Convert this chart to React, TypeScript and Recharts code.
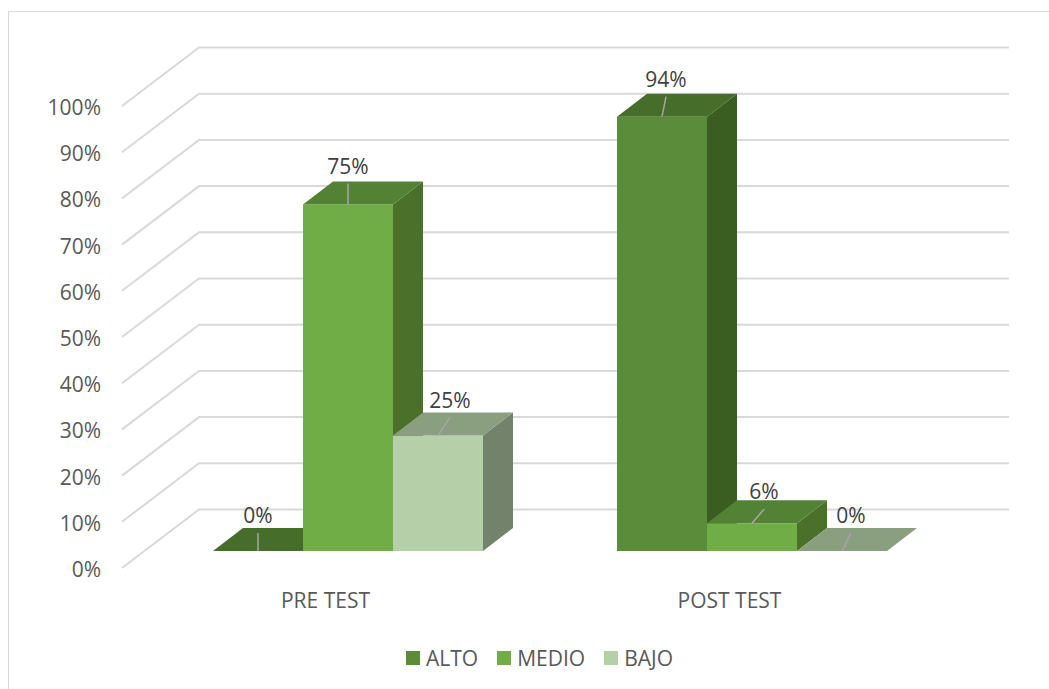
import {
  Bar,
  BarChart,
  CartesianGrid,
  LabelList,
  Legend,
  XAxis,
  YAxis,
} from "recharts";

const categories = ["PRE TEST", "POST TEST"];
const alto = [0, 94];
const medio = [75, 6];
const bajo = [25, 0];
const percentTicks = [0, 10, 20, 30, 40, 50, 60, 70, 80, 90, 100];

const rows = categories.map((name, i) => ({
  name,
  ALTO: alto[i],
  MEDIO: medio[i],
  BAJO: bajo[i],
}));

const FONT = "'Open Sans', sans-serif";
const DEPTH_X = 30;
const DEPTH_Y = 23;

// fake 3d: how far the wall and floor sit from the bar plane
const WALL_LEFT = 199;
const WALL_RIGHT = 1009;
const WALL_DY = -41.5;
const AXIS_LEFT = 122;
const AXIS_DY = 17;

// label leaders, [dx, rise] per category
const altoLeaders = [[0, 18], [4, 20]];
const medioLeaders = [[0, 21], [12, 14]];
const bajoLeaders = [[12, 18], [9, 18]];

function Box({ x, y, width, height, fill, topFill, sideFill }: any) {
  const top = `${x},${y} ${x + DEPTH_X},${y - DEPTH_Y} ${x + width + DEPTH_X},${y - DEPTH_Y} ${x + width},${y}`;
  const side = `${x + width},${y} ${x + width + DEPTH_X},${y - DEPTH_Y} ${x + width + DEPTH_X},${y + height - DEPTH_Y} ${x + width},${y + height}`;
  return (
    <g>
      <polygon points={side} fill={sideFill} />
      <rect x={x} y={y} width={width} height={height} fill={fill} />
      <polygon points={top} fill={topFill} />
    </g>
  );
}

function leaderLabel(leaders: number[][]) {
  return ({ x, y, width, value, index }: any) => {
    const [dx, rise] = leaders[index];
    const cx = x + width / 2;
    return (
      <g>
        <line
          x1={cx}
          y1={y}
          x2={cx + dx}
          y2={y - rise}
          stroke="#a6a6a6"
          strokeWidth={1.5}
        />
        <text
          x={cx + dx}
          y={y - rise - 18}
          textAnchor="middle"
          dominantBaseline="central"
          fontFamily={FONT}
          fontSize={21}
          fill="#404040"
        >
          {`${value}%`}
        </text>
      </g>
    );
  };
}

function GridLine({ y1 }: any) {
  const points = `${AXIS_LEFT},${y1 + AXIS_DY} ${WALL_LEFT},${y1 + WALL_DY} ${WALL_RIGHT},${y1 + WALL_DY}`;
  return <polyline points={points} fill="none" stroke="#d9d9d9" strokeWidth={2} />;
}

function PercentTick({ y, payload }: any) {
  return (
    <text
      x={101}
      y={y + AXIS_DY + 1}
      textAnchor="end"
      dominantBaseline="central"
      fontFamily={FONT}
      fontSize={21}
      fill="#595959"
    >
      {`${payload.value}%`}
    </text>
  );
}

function CategoryTick({ x, payload }: any) {
  return (
    <text
      x={x - 22.5}
      y={600}
      textAnchor="middle"
      dominantBaseline="central"
      fontFamily={FONT}
      fontSize={21}
      fill="#595959"
    >
      {payload.value}
    </text>
  );
}

function LegendRow({ payload }: any) {
  return (
    <div style={{ display: "flex", fontFamily: FONT, fontSize: 21, color: "#595959" }}>
      {payload.map((item: any) => (
        <div
          key={item.value}
          style={{ display: "flex", alignItems: "center", marginRight: 19, whiteSpace: "nowrap" }}
        >
          <span
            style={{
              width: 14,
              height: 14,
              background: item.color,
              marginRight: 6,
            }}
          />
          {item.value}
        </div>
      ))}
    </div>
  );
}

export default function App() {
  return (
    <div style={{ position: "absolute", left: 0, top: 0, width: 1049, height: 689, background: "#fff" }}>
      <div
        style={{
          position: "absolute",
          left: 8,
          top: 11,
          right: 0,
          bottom: 0,
          borderLeft: "1.5px solid #d9d9d9",
          borderTop: "1.5px solid #d9d9d9",
        }}
      />
      <div style={{ position: "absolute", left: 0, top: 0 }}>
        <BarChart
          width={1049}
          height={689}
          data={rows}
          barSize={90}
          barGap={0}
          margin={{ top: 89, right: 95, bottom: 98, left: 0 }}
        >
          <CartesianGrid vertical={false} horizontal={<GridLine />} />
          <XAxis
            dataKey="name"
            axisLine={false}
            tickLine={false}
            height={40}
            tick={<CategoryTick />}
          />
          <YAxis
            width={146}
            domain={[0, 100]}
            ticks={percentTicks}
            interval={0}
            axisLine={false}
            tickLine={false}
            tick={<PercentTick />}
          />
          <Legend
            verticalAlign="middle"
            align="center"
            itemSorter={null}
            content={<LegendRow />}
            wrapperStyle={{ top: 644, left: 406, width: "auto" }}
          />
          <Bar
            dataKey="ALTO"
            fill="#5b8c39"
            isAnimationActive={false}
            shape={<Box topFill="#466d2a" sideFill="#3a5d22" />}
          >
            <LabelList content={leaderLabel(altoLeaders)} />
          </Bar>
          <Bar
            dataKey="MEDIO"
            fill="#70ad47"
            isAnimationActive={false}
            shape={<Box topFill="#548235" sideFill="#4a7029" />}
          >
            <LabelList content={leaderLabel(medioLeaders)} />
          </Bar>
          <Bar
            dataKey="BAJO"
            fill="#b5cfa8"
            isAnimationActive={false}
            shape={<Box topFill="#8a9e80" sideFill="#73836b" />}
          >
            <LabelList content={leaderLabel(bajoLeaders)} />
          </Bar>
        </BarChart>
      </div>
    </div>
  );
}
